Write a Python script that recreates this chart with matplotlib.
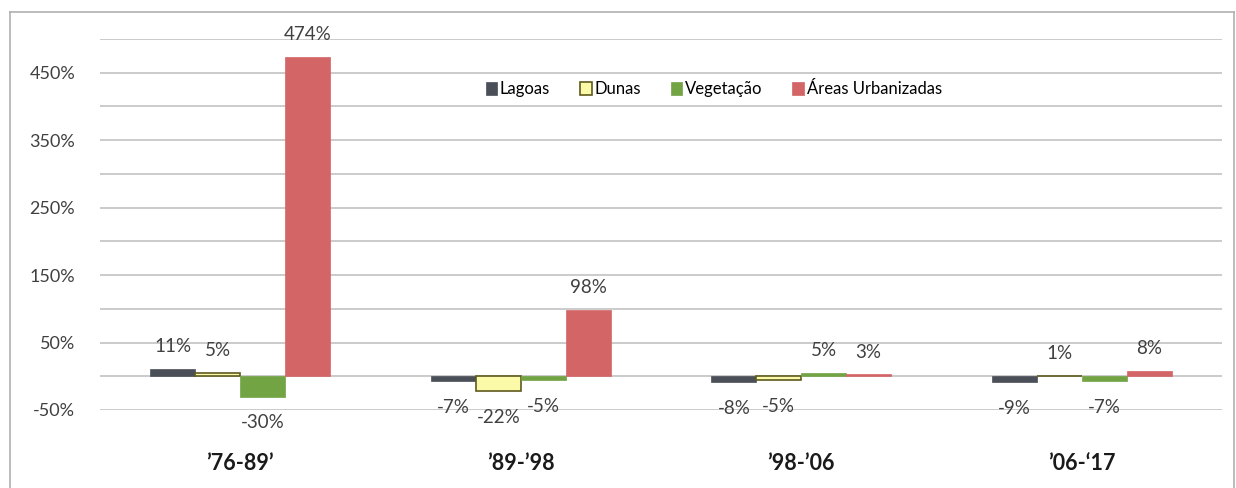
import numpy as np
import matplotlib.pyplot as plt
from matplotlib.lines import Line2D

plt.rcParams['font.family'] = ['Lato', 'DejaVu Sans']

periods = ["\u201976-89\u2019", "\u201989-\u201998", "\u201998-\u201906", "\u201906-\u201817"]
series_names = ["Lagoas", "Dunas", "Vegetação", "Áreas Urbanizadas"]
lagoas = [11, -7, -8, -9]
dunas = [5, -22, -5, 1]
vegetacao = [-30, -5, 5, -7]
urbanizadas = [474, 98, 3, 8]

series = [lagoas, dunas, vegetacao, urbanizadas]
faces = ["#4a4f58", "#fbfaa8", "#72a444", "#d46567"]
edges = ["#4a4f58", "#5e5a1e", "#72a444", "#d46567"]

fig = plt.figure(figsize=(12.36, 4.88), dpi=100)
fig.patch.set_facecolor("white")
ax = fig.add_axes([100 / 1236, 1 - 410 / 488, 1122 / 1236, 371 / 488])

# outer frame like the exported chart area
for xs, ys in [([10 / 1236, 10 / 1236], [0, 1 - 12 / 488]),
               ([10 / 1236, 1234 / 1236], [1 - 12 / 488, 1 - 12 / 488]),
               ([1234 / 1236, 1234 / 1236], [0, 1 - 12 / 488])]:
    fig.add_artist(Line2D(xs, ys, color="#b0b0b0", lw=1.2))

x = np.arange(len(periods))
w = 0.16
for i, (vals, name) in enumerate(zip(series, series_names)):
    pos = x + (i - 1.5) * w
    bars = ax.bar(pos, vals, w, color=faces[i], edgecolor=edges[i],
                  linewidth=1.2 if i == 1 else 0.5, label=name, zorder=3)
    for b, v in zip(bars, vals):
        off = 16 if v >= 0 else -19
        ax.annotate(f"{v}%", (b.get_x() + b.get_width() / 2, v),
                    xytext=(0, off), textcoords="offset points",
                    ha="center", va="center", fontsize=13.5, color="#404040",
                    annotation_clip=False)

ax.set_xlim(-0.5, 3.5)
ax.set_ylim(-50, 500)
ax.set_yticks(np.arange(-50, 501, 50))
ax.set_yticklabels([f"{t}%" if (t // 50) % 2 == 1 else "" for t in range(-50, 501, 50)])
ax.yaxis.grid(True, color="#bdbdbd", lw=1.1, zorder=0)
ax.set_xticks(x)
ax.set_xticklabels(periods, fontsize=15.5, fontweight="bold", color="#1a1a1a")
ax.tick_params(axis="x", length=0, pad=31)
ax.tick_params(axis="y", length=0, pad=18, labelsize=13, labelcolor="#404040")
for s in ax.spines.values():
    s.set_visible(False)

ax.legend(loc="center", bbox_to_anchor=(0.547, 0.865), ncol=4, frameon=False,
          fontsize=12, handlelength=0.7, handleheight=0.8, handletextpad=0.15,
          columnspacing=1.8)

fig.savefig("out.png", dpi=100)
